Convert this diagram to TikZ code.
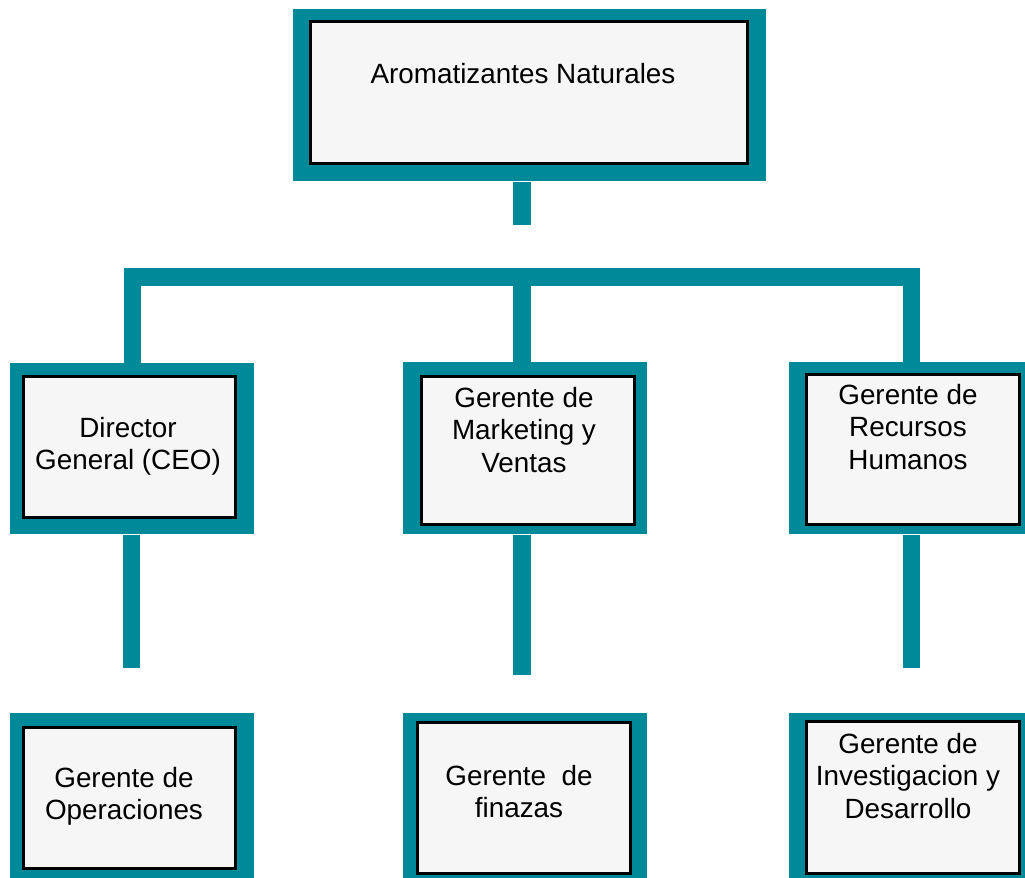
\documentclass[tikz,border=0pt]{standalone}
\usepackage{fontspec}
\setmainfont{Liberation Sans}
\definecolor{orgTeal}{RGB}{0,137,152}
\definecolor{orgCard}{RGB}{246,246,246}

\begin{document}
\begin{tikzpicture}[
    x=0.025cm, y=-0.025cm,
    frame/.style={fill=orgTeal, anchor=north west, inner sep=0pt, minimum width=6.1cm},
    card/.style={draw=black, line width=2pt, fill=orgCard, anchor=north west, inner sep=0pt},
    txt/.style={align=center, inner sep=0pt, font=\fontsize{19.8}{22.8}\selectfont},
    link/.style={draw=orgTeal, line width=0.44cm}
]
    \useasboundingbox (0,0) rectangle (1025,877);

    % teal frames
    \node[frame, minimum width=11.825cm, minimum height=4.3cm] (topFrame) at (293,9) {};
    \node[frame, minimum height=4.275cm] (ceoFrame) at (10,363) {};
    \node[frame, minimum height=4.3cm] (mktFrame) at (403,362) {};
    \node[frame, minimum height=4.3cm] (rrhhFrame) at (789,362) {};
    \node[frame, minimum height=4.5cm] (opsFrame) at (10,713) {};
    \node[frame, minimum height=4.5cm] (finFrame) at (403,713) {};
    \node[frame, minimum height=4.5cm] (idFrame) at (789,713) {};

    % inner cards
    \node[card, minimum width=10.925cm, minimum height=3.55cm] (top) at (309,20) {};
    \node[card, minimum width=5.3cm, minimum height=3.525cm] (ceo) at (22,375) {};
    \node[card, minimum width=5.325cm, minimum height=3.7cm] (mkt) at (420,375) {};
    \node[card, minimum width=5.325cm, minimum height=3.75cm] (rrhh) at (805,373) {};
    \node[card, minimum width=5.3cm, minimum height=3.525cm] (ops) at (22,726) {};
    \node[card, minimum width=5.325cm, minimum height=3.775cm] (fin) at (416,721) {};
    \node[card, minimum width=5.325cm, minimum height=3.8cm] (id) at (805,720) {};

    % texts
    \node[txt] (topTxt) at (523,74) {Aromatizantes Naturales};
    \node[txt] (ceoTxt) at (128,446.5) {Director\\General (CEO)};
    \node[txt] (mktTxt) at (524,430) {Gerente de\\Marketing y\\Ventas};
    \node[txt] (rrhhTxt) at (908,427) {Gerente de\\Recursos\\Humanos};
    \node[txt] (opsTxt) at (124,796) {Gerente de\\Operaciones};
    \node[txt] (finTxt) at (519,791.5) {Gerente\ \ de\\finazas};
    \node[txt] (idTxt) at (908,776) {Gerente de\\Investigacion y\\Desarrollo};

    % connectors
    \coordinate (topStub) at (522,225);
    \coordinate (barTop) at (522,277);
    \coordinate (ceoStub) at (131.5,668);
    \coordinate (mktStub) at (522,675);
    \coordinate (rrhhStub) at (911.5,668);

    \draw[link] (topStub |- topFrame.south) -- (topStub);
    \draw[link] (ceoFrame.north) |- (barTop) -| (rrhhFrame.north);
    \draw[link] (barTop) -- (barTop |- mktFrame.north);
    \draw[link] (ceoStub |- ceoFrame.south) -- (ceoStub);
    \draw[link] (mktStub |- mktFrame.south) -- (mktStub);
    \draw[link] (rrhhStub |- rrhhFrame.south) -- (rrhhStub);
\end{tikzpicture}
\end{document}
